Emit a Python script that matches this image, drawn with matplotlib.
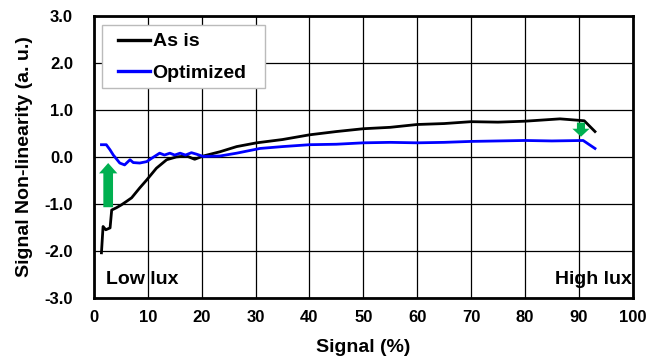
import numpy as np
import matplotlib
matplotlib.use("Agg")
import matplotlib.pyplot as plt
from matplotlib.patches import FancyArrow, Rectangle

plt.rcParams['font.family'] = ['Liberation Sans', 'DejaVu Sans']
plt.rcParams['font.weight'] = 'bold'

# 原始曲线 (As is)
asis_x = [1.4, 1.7, 2.2, 3.0, 3.3, 4.2, 5.1, 6.0, 7.0, 8.5, 9.8, 11.6, 13.5, 15.3, 17.2,
          18.7, 20.3, 23.4, 26.5, 30.2, 35, 40, 45, 50, 55, 60, 65, 70, 75, 80, 86.5, 91, 93]
asis_y = [-2.04, -1.48, -1.55, -1.51, -1.13, -1.08, -1.02, -0.95, -0.87, -0.66, -0.49, -0.24,
          -0.06, 0.0, 0.02, -0.05, 0.02, 0.11, 0.22, 0.30, 0.37, 0.47, 0.54, 0.60, 0.63, 0.69,
          0.71, 0.75, 0.74, 0.76, 0.81, 0.77, 0.54]

# 优化后曲线 (Optimized)
opt_x = [1.4, 2.3, 3.0, 3.6, 4.8, 5.7, 6.7, 7.3, 8.5, 9.8, 10.7, 12.2, 13.1, 14.1, 15.0,
         16.0, 17.0, 18.1, 19.0, 20.3, 23.4, 26.5, 30.8, 35, 40, 45, 50, 55, 60, 65, 70,
         75, 80, 85, 90.8, 93]
opt_y = [0.26, 0.26, 0.15, 0.04, -0.13, -0.17, -0.06, -0.12, -0.13, -0.10, -0.03, 0.08,
         0.04, 0.08, 0.04, 0.08, 0.04, 0.09, 0.06, 0.01, 0.02, 0.08, 0.18, 0.22, 0.26, 0.27,
         0.30, 0.31, 0.30, 0.31, 0.33, 0.34, 0.35, 0.34, 0.35, 0.18]

xticks = np.arange(0, 101, 10)
yticks = np.arange(-3, 3.01, 1)

fig = plt.figure(figsize=(6.66, 3.62), dpi=100)
ax = fig.add_axes([0.141, 0.177, 0.809, 0.779])

ax.plot(asis_x, asis_y, color='black', lw=2.0, label='As is', zorder=3)
ax.plot(opt_x, opt_y, color='#0000FF', lw=2.0, label='Optimized', zorder=3)

# 绿色箭头
ax.add_patch(FancyArrow(2.65, -1.07, 0, 0.94, width=1.8, head_width=3.4, head_length=0.22,
                        length_includes_head=True, color='#00B050', lw=0, zorder=4))
ax.add_patch(FancyArrow(90.4, 0.73, 0, -0.30, width=1.5, head_width=3.2, head_length=0.17,
                        length_includes_head=True, color='#00B050', lw=0, zorder=4))

ax.set_xlim(0, 100)
ax.set_ylim(-3, 3)
ax.set_xticks(xticks)
ax.set_yticks(yticks)
ax.set_yticklabels(['%.1f' % v for v in yticks])
ax.tick_params(length=0, labelsize=12)
ax.tick_params(axis='y', pad=15)
ax.tick_params(axis='x', pad=9)
ax.grid(True, color='black', lw=0.9)
for s in ax.spines.values():
    s.set_linewidth(2)

ax.set_xlabel('Signal (%)', fontsize=14, fontweight='bold')
ax.set_ylabel('Signal Non-linearity (a. u.)', fontsize=14, fontweight='bold')
ax.xaxis.set_label_coords(0.5, -0.145)
ax.yaxis.set_label_coords(-0.113, 0.5)

ax.text(2.2, -2.6, 'Low lux', fontsize=14, fontweight='bold', ha='left', va='center')
ax.text(99.8, -2.6, 'High lux', fontsize=14, fontweight='bold', ha='right', va='center')

# 图例框
ax.add_patch(Rectangle((0.015, 0.745), 0.302, 0.223, transform=ax.transAxes,
                       facecolor='white', edgecolor='#BBBBBB', lw=1, zorder=5))
leg = ax.legend(loc='upper left', bbox_to_anchor=(0.044, 0.94), fontsize=14,
                handlelength=1.65, handletextpad=0.15, frameon=False,
                borderpad=0, labelspacing=0.72, borderaxespad=0)
leg.set_zorder(6)
for line in leg.get_lines():
    line.set_linewidth(2.4)

plt.savefig('out.png', dpi=100)
